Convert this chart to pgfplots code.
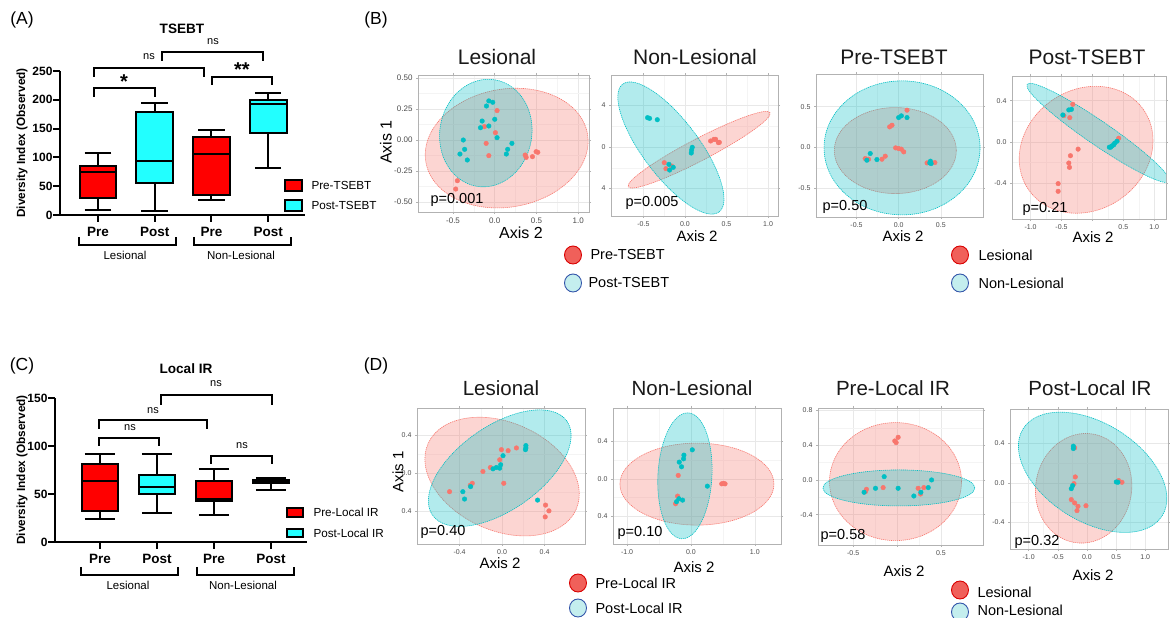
\documentclass[border=0pt]{standalone}
\usepackage{fontspec}
\setmainfont{Liberation Sans}
\usepackage{pgfplots}
\pgfplotsset{compat=1.18}
\usepgfplotslibrary{statistics}
\definecolor{ggred}{HTML}{F8766D}
\definecolor{ggteal}{HTML}{00BFC4}
\definecolor{boxred}{HTML}{FF0000}
\definecolor{boxcyan}{HTML}{22FFFF}
\definecolor{tickgray}{HTML}{4D4D4D}
\definecolor{legblue}{HTML}{3355AA}
\definecolor{legcyan}{HTML}{C4EEEE}
\definecolor{legred}{HTML}{F0605A}
\newcommand{\fs}[1]{\fontsize{#1}{#1}\selectfont}
\newcommand{\ELL}[6]{\draw[#1, rotate around={#6:(axis cs:#2,#3)}] (axis cs:#2,#3) ellipse [x radius=#4pt, y radius=#5pt];}
\tikzset{
  re/.style={draw=ggred, fill=ggred, fill opacity=0.3, dash pattern=on 1.2pt off 0.8pt, line width=0.6pt},
  te/.style={draw=ggteal, fill=ggteal, fill opacity=0.3, dash pattern=on 1.2pt off 0.8pt, line width=0.6pt},
}
\pgfplotsset{
  boxax/.style={
    scale only axis, axis lines=left, axis line style={-, line width=2pt},
    ymin=0, xtick={1,2,3,4}, xticklabels={Pre,Post,Pre,Post},
    tick align=outside, major tick length=7pt, tick style={line width=2pt, black},
    /pgf/number format/assume math mode=true,
    yticklabel style={font=\fs{12}\bfseries, xshift=3pt},
    xticklabel style={font=\fs{13.5}\bfseries, yshift=-2pt},
    ylabel={Diversity Index (Observed)},
    clip=false,
    boxplot/draw direction=y,
  },
  bx/.style={line width=2pt, draw=black, fill=#1, solid},
  pc/.style={
    scale only axis, axis line style={draw=gray!60, line width=0.6pt},
    grid=both, major grid style={draw=gray!18, line width=0.5pt},
    minor grid style={draw=gray!9, line width=0.4pt},
    minor tick num=1, tick align=outside, major tick length=2pt, minor tick length=0pt,
    tick style={draw=gray!60, line width=0.5pt},
    /pgf/number format/assume math mode=true,
    tick label style={font=\fs{7}, text=tickgray},
  },
  rp/.style={only marks, mark=*, mark size=2.3pt, color=ggred, mark options={draw=none, fill=ggred}},
  tp/.style={only marks, mark=*, mark size=2.3pt, color=ggteal, mark options={draw=none, fill=ggteal}},
}
\begin{document}
\begin{tikzpicture}
\path[use as bounding box, fill=white] (0,0) rectangle (1170pt,618pt);

% ---------------- Panel A ----------------
\begin{axis}[boxax, at={(60pt,403pt)}, anchor=south west, width=245pt, height=144pt,
  xmin=0.33, xmax=4.65, ymax=250, ytick={0,50,100,150,200,250},
  ylabel style={font=\fs{11.8}\bfseries, at={(axis description cs:-0.155,0.5)}, anchor=center}]
\addplot[bx=boxred, boxplot prepared={lower whisker=8.1, lower quartile=29.4, median=73.9, upper quartile=85.5, upper whisker=107.4, draw position=1, box extend=0.65, whisker extend=0.47}] coordinates {};
\addplot[bx=boxcyan, boxplot prepared={lower whisker=6.4, lower quartile=56.2, median=93, upper quartile=179, upper whisker=195.2, draw position=2, box extend=0.65, whisker extend=0.47}] coordinates {};
\addplot[bx=boxred, boxplot prepared={lower whisker=26.6, lower quartile=35.2, median=105.7, upper quartile=135.1, upper whisker=147.8, draw position=3, box extend=0.65, whisker extend=0.47}] coordinates {};
\addplot[bx=boxcyan, boxplot prepared={lower whisker=81.4, lower quartile=142, median=192.9, upper quartile=199.8, upper whisker=211.3, draw position=4, box extend=0.65, whisker extend=0.47}] coordinates {};
\end{axis}

% ---------------- Panel C ----------------
\begin{axis}[boxax, at={(55pt,76pt)}, anchor=south west, width=252pt, height=144pt,
  xmin=0.21, xmax=4.63, ymax=150, ytick={0,50,100,150},
  ylabel style={font=\fs{11.8}\bfseries, at={(axis description cs:-0.131,0.5)}, anchor=center}]
\addplot[bx=boxred, boxplot prepared={lower whisker=24.3, lower quartile=31.9, median=63.2, upper quartile=81.6, upper whisker=92, draw position=1, box extend=0.64, whisker extend=0.53}] coordinates {};
\addplot[bx=boxcyan, boxplot prepared={lower whisker=30.2, lower quartile=49.6, median=56.9, upper quartile=69.4, upper whisker=92, draw position=2, box extend=0.64, whisker extend=0.53}] coordinates {};
\addplot[bx=boxred, boxplot prepared={lower whisker=27.8, lower quartile=43, median=44.5, upper quartile=63.9, upper whisker=75.7, draw position=3, box extend=0.64, whisker extend=0.53}] coordinates {};
\addplot[bx=boxcyan, boxplot prepared={lower whisker=54.5, lower quartile=61.5, median=63.2, upper quartile=64.9, upper whisker=66.3, draw position=4, box extend=0.64, whisker extend=0.53}] coordinates {};
\end{axis}

% ---------------- Panel B ----------------
\begin{axis}[pc, at={(418pt,406pt)}, anchor=south west, width=171pt, height=137pt,
  xmin=-0.92, xmax=1.13, ymin=-0.58, ymax=0.524,
  xtick={-0.5,0,0.5,1}, xticklabels={-0.5,0.0,0.5,1.0},
  ytick={-0.5,-0.25,0,0.25,0.5}, yticklabels={-0.50,-0.25,0.00,0.25,0.50},
  tick label style={font=\fs{8}}]
\addplot[rp] coordinates {(0.028,0.237) (-0.123,0.108) (0.008,0.059) (-0.103,-0.027) (-0.071,-0.126) (0.365,-0.121) (0.377,-0.140) (0.452,-0.134) (0.496,-0.094) (0.516,-0.099) (-0.448,-0.328) (-0.468,-0.395)};
\addplot[tp] coordinates {(-0.071,0.315) (-0.024,0.304) (-0.099,0.274) (-0.151,0.153) (-0.171,0.099) (-0.071,0.113) (0.0,0.167) (0.028,0.019) (-0.377,0.0) (-0.417,-0.113) (-0.361,-0.075) (-0.329,-0.161) (0.206,-0.027) (0.155,-0.075) (0.139,-0.113)};
\ELL{re}{0.143}{-0.065}{82}{59}{10}
\ELL{te}{-0.107}{0.056}{46}{54}{-10}
\end{axis}

\begin{axis}[pc, at={(611pt,402pt)}, anchor=south west, width=167pt, height=141pt,
  xmin=-0.89, xmax=1.12, ymin=-0.665, ymax=0.694,
  xtick={-0.5,0,0.5,1}, xticklabels={-0.5,0.0,0.5,1.0},
  ytick={-0.4,0,0.4}, yticklabels={4,0,4}]
\addplot[rp] coordinates {(0.309,0.058) (0.349,0.074) (0.369,0.074) (0.402,0.042) (0.414,0.045) (-0.249,-0.151) (-0.229,-0.209) (-0.161,-0.183)};
\addplot[tp] coordinates {(-0.450,0.283) (-0.426,0.276) (-0.333,0.263) (0.088,-0.003) (0.080,-0.029) (0.076,-0.058) (-0.193,-0.167) (-0.185,-0.222) (-0.141,-0.196)};
\ELL{re}{0.171}{-0.026}{80}{11}{27.6}
\ELL{te}{-0.169}{-0.01}{80}{28}{-53}
\end{axis}

\begin{axis}[pc, at={(816pt,401pt)}, anchor=south west, width=167pt, height=143pt,
  xmin=-0.98, xmax=1.0, ymin=-0.85, ymax=0.90,
  xtick={-0.5,0,0.5}, xticklabels={-0.5,0.0,0.5},
  ytick={-0.5,0,0.5}, yticklabels={-0.5,0.0,0.5}]
\addplot[rp] coordinates {(0.099,0.457) (-0.079,0.273) (-0.107,0.253) (-0.036,-0.004) (0.0,-0.012) (0.032,-0.020) (0.060,-0.053) (-0.159,-0.106) (-0.198,-0.143) (-0.357,-0.143) (-0.397,-0.135) (0.337,-0.188) (0.429,-0.184)};
\addplot[tp] coordinates {(0.0,0.367) (0.032,0.388) (0.099,0.367) (-0.337,-0.073) (-0.377,-0.155) (-0.258,-0.147) (0.377,-0.167) (0.385,-0.196) (0.369,-0.188)};
\ELL{re}{-0.04}{-0.037}{61}{43}{0}
\ELL{te}{0.04}{-0.004}{78}{67}{0}
\end{axis}

\begin{axis}[pc, at={(1012pt,399pt)}, anchor=south west, width=154pt, height=143pt,
  xmin=-1.30, xmax=1.19, ymin=-0.75, ymax=0.64,
  xtick={-1,-0.5,0,0.5,1}, xticklabels={-1.0,-0.5,,0.5,1.0},
  ytick={-0.4,0,0.4}, yticklabels={-0.4,0.0,0.4}]
\addplot[rp] coordinates {(-0.317,0.365) (-0.462,0.255) (-0.366,0.235) (0.425,0.035) (-0.231,-0.071) (-0.355,-0.135) (-0.382,-0.206) (-0.371,-0.248) (-0.554,-0.406) (-0.554,-0.481)};
\addplot[tp] coordinates {(-0.382,0.310) (-0.339,0.316) (-0.478,0.261) (0.274,-0.052) (0.317,-0.039) (0.360,-0.013) (0.398,0.006) (0.344,-0.029) (0.296,-0.052)};
\ELL{re}{-0.102}{-0.077}{70}{60}{35}
\ELL{te}{0.091}{0.087}{86}{12}{-34.4}
\end{axis}

% ---------------- Panel D ----------------
\begin{axis}[pc, at={(417pt,74pt)}, anchor=south west, width=168pt, height=136pt,
  xmin=-0.80, xmax=0.78, ymin=-0.75, ymax=0.69,
  xtick={-0.4,0,0.4}, xticklabels={-0.4,0.0,0.4},
  ytick={-0.4,0,0.4}, yticklabels={0.4,0.0,0.4}]
\addplot[rp] coordinates {(-0.494,-0.196) (-0.299,-0.128) (-0.280,-0.107) (-0.180,0.018) (-0.110,0.060) (-0.022,0.142) (-0.006,0.249) (0.057,0.238) (0.135,0.267) (0.016,-0.107) (0.409,-0.338) (0.441,-0.399) (0.406,-0.463)};
\addplot[tp] coordinates {(-0.369,-0.196) (-0.353,-0.274) (-0.296,-0.142) (-0.085,0.046) (-0.054,0.060) (-0.022,0.053) (-0.013,0.089) (0.009,0.185) (0.224,0.292) (0.224,0.267) (0.220,0.249) (0.334,-0.285)};
\ELL{re}{0}{-0.036}{81}{54}{-24}
\ELL{te}{-0.022}{0.053}{82}{42}{35}
\end{axis}

\begin{axis}[pc, at={(613pt,74pt)}, anchor=south west, width=168pt, height=136pt,
  xmin=-1.22, xmax=1.41, ymin=-0.70, ymax=0.76,
  xtick={-1,0,1}, xticklabels={-1.0,0.0,1.0},
  ytick={-0.4,0,0.4}, yticklabels={0.4,0.0,0.4}]
\addplot[rp] coordinates {(-0.199,0.036) (-0.209,-0.186) (-0.241,-0.268) (0.482,-0.054) (0.508,-0.050) (0.534,-0.054)};
\addplot[tp] coordinates {(0.021,0.311) (-0.110,0.254) (-0.115,0.214) (-0.183,0.179) (-0.147,0.129) (0.257,-0.079) (-0.188,-0.214) (-0.131,-0.229) (-0.225,-0.246)};
\ELL{re}{0.094}{-0.057}{77}{41}{0}
\ELL{te}{-0.094}{0.032}{27}{63}{-3}
\end{axis}

\begin{axis}[pc, at={(818pt,73pt)}, anchor=south west, width=165pt, height=137pt,
  xmin=-0.90, xmax=0.98, ymin=-0.75, ymax=0.83,
  xtick={-0.5,0,0.5}, xticklabels={-0.5,,0.5},
  ytick={-0.4,0,0.4,0.8}, yticklabels={-0.4,0.0,0.4,0.8}]
\addplot[rp] coordinates {(-0.025,0.450) (-0.010,0.431) (0.013,0.492) (-0.348,-0.108) (-0.359,-0.135) (-0.158,-0.088) (0.241,-0.096) (0.306,-0.088) (0.268,-0.162)};
\addplot[tp] coordinates {(-0.146,0.038) (-0.245,-0.096) (-0.375,-0.142) (0.013,-0.096) (0.192,-0.185) (0.356,-0.088) (0.394,0.0) (0.272,-0.142)};
\ELL{re}{-0.017}{-0.019}{66}{59}{0}
\ELL{te}{0.021}{-0.092}{76}{18}{0}
\end{axis}

\begin{axis}[pc, at={(1010pt,69pt)}, anchor=south west, width=158pt, height=140pt,
  xmin=-1.32, xmax=1.39, ymin=-0.67, ymax=0.75,
  xtick={-1,-0.5,0,0.5,1}, xticklabels={-1.0,-0.5,0.0,0.5,1.0},
  ytick={-0.4,0,0.4}, yticklabels={-0.4,0.0,0.4}]
\addplot[rp] coordinates {(-0.211,0.356) (-0.200,0.061) (-0.223,-0.007) (-0.269,-0.169) (-0.211,-0.203) (-0.154,-0.237) (-0.171,-0.281) (-0.017,-0.231) (0.543,0.024) (0.600,0.007)};
\addplot[tp] coordinates {(-0.234,0.373) (-0.234,0.349) (-0.246,-0.027) (-0.269,-0.058) (0.503,0.010) (0.531,0.007)};
\ELL{re}{-0.057}{-0.054}{48}{55}{-10}
\ELL{te}{0.097}{0.108}{82}{49}{-32}
\end{axis}

% ---------------- annotations (image pixel coordinates) ----------------
\begin{scope}[x=1pt, y=-1pt, shift={(0pt,618pt)}]
\node[font=\fs{17.5}] at (22,20) {(A)};
\node[font=\fs{17.5}] at (22,366) {(C)};
\node[font=\fs{17.5}] at (376,20) {(B)};
\node[font=\fs{17.5}] at (376,366) {(D)};
\node[font=\fs{13.6}\bfseries] at (182,29) {TSEBT};
\node[font=\fs{13.6}\bfseries] at (186,369) {Local IR};
\begin{scope}[line width=2pt]
\draw (94,97)--(94,88)--(155,88)--(155,97);
\draw (94,77)--(94,68)--(204,68)--(204,77);
\draw (162,61)--(162,52)--(263,52)--(263,61);
\draw (212,85)--(212,77)--(272,77)--(272,85);
\draw (99,446)--(99,438)--(159,438)--(159,446);
\draw (99,429)--(99,420)--(207,420)--(207,429);
\draw (161,405)--(161,395)--(272,395)--(272,405);
\draw (211,464)--(211,456)--(272,456)--(272,464);
\draw (79,237)--(79,245)--(176,245)--(176,237);
\draw (194,237)--(194,245)--(291,245)--(291,237);
\draw (81,567)--(81,575)--(178,575)--(178,567);
\draw (197,567)--(197,575)--(294,575)--(294,567);
\end{scope}
\node[font=\fs{20}\bfseries, anchor=north, inner sep=0pt] at (124,75) {*};
\node[font=\fs{20}\bfseries, anchor=north, inner sep=0pt] at (242,63) {**};
\node[font=\fs{11}] at (149,57) {ns};
\node[font=\fs{11}] at (213,42) {ns};
\node[font=\fs{11}] at (130,428) {ns};
\node[font=\fs{11}] at (153,411) {ns};
\node[font=\fs{11}] at (216,384) {ns};
\node[font=\fs{11}] at (242,446) {ns};
\node[font=\fs{11.5}] at (125,255) {Lesional};
\node[font=\fs{11.5}] at (241,255) {Non-Lesional};
\node[font=\fs{11.5}] at (128,585) {Lesional};
\node[font=\fs{11.5}] at (243,585) {Non-Lesional};
\draw[line width=1.8pt, fill=boxred] (285,180) rectangle (302,191);
\draw[line width=1.8pt, fill=boxcyan] (285,200) rectangle (302,211);
\node[font=\fs{11.7}, anchor=west] at (308,185.5) {Pre-TSEBT};
\node[font=\fs{11.7}, anchor=west] at (308,205.5) {Post-TSEBT};
\draw[line width=1.8pt, fill=boxred] (287,508) rectangle (303,517);
\draw[line width=1.8pt, fill=boxcyan] (287,529) rectangle (303,537);
\node[font=\fs{11.7}, anchor=west] at (310,512.5) {Pre-Local IR};
\node[font=\fs{11.7}, anchor=west] at (310,533) {Post-Local IR};
\node[font=\fs{21}, text=black!90] at (497,57) {Lesional};
\node[font=\fs{21}, text=black!90] at (695,57) {Non-Lesional};
\node[font=\fs{21}, text=black!90] at (894,57) {Pre-TSEBT};
\node[font=\fs{21}, text=black!90] at (1087,57) {Post-TSEBT};
\node[font=\fs{20.5}, text=black!90] at (501,388) {Lesional};
\node[font=\fs{20.5}, text=black!90] at (692,388) {Non-Lesional};
\node[font=\fs{20.5}, text=black!90] at (893,388) {Pre-Local IR};
\node[font=\fs{20.5}, text=black!90] at (1090,388) {Post-Local IR};
\node[font=\fs{16}] at (521,233) {Axis 2};
\node[font=\fs{15}] at (697,236) {Axis 2};
\node[font=\fs{15}] at (903,236) {Axis 2};
\node[font=\fs{15}] at (1093,237) {Axis 2};
\node[font=\fs{15}] at (500,563) {Axis 2};
\node[font=\fs{15}] at (694,567) {Axis 2};
\node[font=\fs{15}] at (904,571) {Axis 2};
\node[font=\fs{15}] at (1093,575) {Axis 2};
\node[font=\fs{16}, rotate=90] at (386,142) {Axis 1};
\node[font=\fs{15}, rotate=90] at (398,472) {Axis 1};
\node[font=\fs{14.5}] at (457,200) {p=0.001};
\node[font=\fs{14.5}] at (652,203) {p=0.005};
\node[font=\fs{14.5}] at (845,207) {p=0.50};
\node[font=\fs{14.5}] at (1045,209) {p=0.21};
\node[font=\fs{14.5}] at (443,532) {p=0.40};
\node[font=\fs{14.5}] at (640,533) {p=0.10};
\node[font=\fs{14.5}] at (843,536) {p=0.58};
\node[font=\fs{14.5}] at (1037,542) {p=0.32};
\draw[fill=legred, draw=red!85!black, line width=0.9pt] (573,255) ellipse [x radius=8.5pt, y radius=9pt];
\draw[fill=legcyan, draw=legblue, line width=0.9pt] (573,283) ellipse [x radius=8.5pt, y radius=9pt];
\node[font=\fs{14.5}, anchor=west] at (587,255) {Pre-TSEBT};
\node[font=\fs{14.5}, anchor=west] at (585,283) {Post-TSEBT};
\draw[fill=legred, draw=red!85!black, line width=0.9pt] (960,255) ellipse [x radius=8.5pt, y radius=9pt];
\draw[fill=legcyan, draw=legblue, line width=0.9pt] (960,283) ellipse [x radius=8.5pt, y radius=9pt];
\node[font=\fs{14.5}, anchor=west] at (975,255) {Lesional};
\node[font=\fs{14.5}, anchor=west] at (975,283) {Non-Lesional};
\draw[fill=legred, draw=red!85!black, line width=0.9pt] (578,583) ellipse [x radius=8.5pt, y radius=9pt];
\draw[fill=legcyan, draw=legblue, line width=0.9pt] (578,608) ellipse [x radius=8.5pt, y radius=9pt];
\node[font=\fs{14.5}, anchor=west] at (592,583) {Pre-Local IR};
\node[font=\fs{14.5}, anchor=west] at (592,608) {Post-Local IR};
\draw[fill=legred, draw=red!85!black, line width=0.9pt] (960,590) ellipse [x radius=8.5pt, y radius=9pt];
\draw[fill=legcyan, draw=legblue, line width=0.9pt] (960,612) ellipse [x radius=8.5pt, y radius=9pt];
\node[font=\fs{14.5}, anchor=west] at (974,592) {Lesional};
\node[font=\fs{14.5}, anchor=west] at (974,610) {Non-Lesional};
\end{scope}
\end{tikzpicture}
\end{document}
